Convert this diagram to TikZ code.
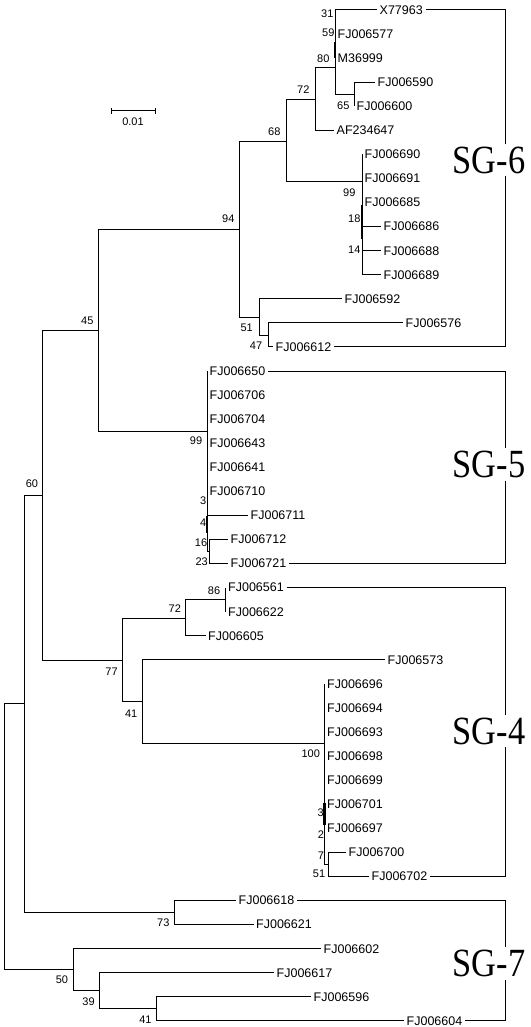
\documentclass[tikz,border=0pt]{standalone}
\usepackage{fontspec}
\usepackage{graphicx}
\usetikzlibrary{arrows.meta}
\newfontfamily\labelfont{Liberation Sans}
\newfontfamily\groupfont{Liberation Serif}

\begin{document}
\begin{tikzpicture}[x=1pt, y=-1pt,
	branch/.style={line width=1pt},
	zerobranch/.style={line width=2.2pt},
	leaf/.style={anchor=west, inner xsep=2.5pt, inner ysep=0pt, font=\labelfont\fontsize{12.5}{12.5}\selectfont},
	boot/.style={inner sep=0pt, font=\labelfont\fontsize{11}{11}\selectfont},
	group/.style={inner xsep=0pt, inner ysep=3pt, text height=26.5pt, text depth=0pt, font=\groupfont\fontsize{40}{40}\selectfont}]
\useasboundingbox (0,0) rectangle (530,1027);

\coordinate (n31) at (335,22);
\coordinate (n59) at (335,42);
\coordinate (n80) at (335,68);
\coordinate (n65) at (354,94.25);
\coordinate (n72a) at (315,100);
\coordinate (n68) at (286,141.5);
\coordinate (n99a) at (362,182);
\coordinate (n18) at (362,205);
\coordinate (n14) at (362,239);
\coordinate (n94) at (239,229.5);
\coordinate (n51a) at (259,317);
\coordinate (n47) at (268,335);
\coordinate (n45) at (98,330);
\coordinate (n99b) at (207,431);
\coordinate (n4a) at (207,515.5);
\coordinate (n4b) at (207,533);
\coordinate (n16) at (209,551.6);
\coordinate (n60) at (42,495);
\coordinate (n77) at (122.4,660.6);
\coordinate (n72b) at (185.3,618);
\coordinate (n86) at (225.5,599.7);
\coordinate (n41a) at (142.7,701.5);
\coordinate (n100) at (324.5,743);
\coordinate (n3a) at (324.5,803);
\coordinate (n3b) at (324.5,825);
\coordinate (n7) at (328,864.5);
\coordinate (nmid) at (24.3,703.5);
\coordinate (nroot) at (4.4,837);
\coordinate (n73) at (174,912.6);
\coordinate (n50) at (73.7,969.7);
\coordinate (n39) at (99.7,990.7);
\coordinate (n41b) at (156.5,1008.9);
\coordinate (bx) at (505.7,0);

\node[leaf] (x77963) at (377,10) {X77963};
\node[leaf] (fj006577) at (335,34.07) {FJ006577};
\node[leaf] (m36999) at (335,58.14) {M36999};
\node[leaf] (fj006590) at (375,82.21) {FJ006590};
\node[leaf] (fj006600) at (354,106.28) {FJ006600};
\node[leaf] (af234647) at (334,130.35) {AF234647};
\node[leaf] (fj006690) at (362,154.42) {FJ006690};
\node[leaf] (fj006691) at (362,178.49) {FJ006691};
\node[leaf] (fj006685) at (362,202.56) {FJ006685};
\node[leaf] (fj006686) at (381,226.63) {FJ006686};
\node[leaf] (fj006688) at (381,250.7) {FJ006688};
\node[leaf] (fj006689) at (381,274.77) {FJ006689};
\node[leaf] (fj006592) at (342,298.84) {FJ006592};
\node[leaf] (fj006576) at (403,322.91) {FJ006576};
\node[leaf] (fj006612) at (273,346.98) {FJ006612};
\node[leaf] (fj006650) at (207,371.05) {FJ006650};
\node[leaf] (fj006706) at (207,395.12) {FJ006706};
\node[leaf] (fj006704) at (207,419.19) {FJ006704};
\node[leaf] (fj006643) at (207,443.26) {FJ006643};
\node[leaf] (fj006641) at (207,467.33) {FJ006641};
\node[leaf] (fj006710) at (207,491.4) {FJ006710};
\node[leaf] (fj006711) at (248,515.47) {FJ006711};
\node[leaf] (fj006712) at (228,539.54) {FJ006712};
\node[leaf] (fj006721) at (228,563.61) {FJ006721};
\node[leaf] (fj006561) at (225.5,587.68) {FJ006561};
\node[leaf] (fj006622) at (225.5,611.75) {FJ006622};
\node[leaf] (fj006605) at (205.5,635.82) {FJ006605};
\node[leaf] (fj006573) at (385,659.89) {FJ006573};
\node[leaf] (fj006696) at (324.5,683.96) {FJ006696};
\node[leaf] (fj006694) at (324.5,708.03) {FJ006694};
\node[leaf] (fj006693) at (324.5,732.1) {FJ006693};
\node[leaf] (fj006698) at (324.5,756.17) {FJ006698};
\node[leaf] (fj006699) at (324.5,780.24) {FJ006699};
\node[leaf] (fj006701) at (324.5,804.31) {FJ006701};
\node[leaf] (fj006697) at (324.5,828.38) {FJ006697};
\node[leaf] (fj006700) at (346,852.45) {FJ006700};
\node[leaf] (fj006702) at (369,876.52) {FJ006702};
\node[leaf] (fj006618) at (236,900.59) {FJ006618};
\node[leaf] (fj006621) at (253.5,924.66) {FJ006621};
\node[leaf] (fj006602) at (321,948.73) {FJ006602};
\node[leaf] (fj006617) at (274,972.8) {FJ006617};
\node[leaf] (fj006596) at (311,996.87) {FJ006596};
\node[leaf] (fj006604) at (404,1020.94) {FJ006604};

\node[boot] (l31) at (327.3,13.3) {31};
\node[boot] (l59) at (328.3,32.3) {59};
\node[boot] (l80) at (323.3,58.3) {80};
\node[boot] (l65) at (343.3,106) {65};
\node[boot] (l72a) at (303.3,90) {72};
\node[boot] (l68) at (274.3,131.7) {68};
\node[boot] (l99a) at (349.3,192.7) {99};
\node[boot] (l18) at (354.3,219) {18};
\node[boot] (l14) at (354.3,250) {14};
\node[boot] (l94) at (228.3,219) {94};
\node[boot] (l51a) at (246.7,327.7) {51};
\node[boot] (l47) at (256,345.7) {47};
\node[boot] (l45) at (87.3,320.7) {45};
\node[boot] (l99b) at (196,440.7) {99};
\node[boot] (l3a) at (203.3,501) {3};
\node[boot] (l4) at (203.3,522.7) {4};
\node[boot] (l16) at (201,542.7) {16};
\node[boot] (l23) at (201.7,561.7) {23};
\node[boot] (l60) at (32,484) {60};
\node[boot] (l86) at (214,590.3) {86};
\node[boot] (l72b) at (174.8,608.2) {72};
\node[boot] (l77) at (111.6,671.4) {77};
\node[boot] (l41a) at (131.2,713.7) {41};
\node[boot] (l100) at (310.7,753.3) {100};
\node[boot] (l3b) at (320.7,812.7) {3};
\node[boot] (l2) at (321,834.3) {2};
\node[boot] (l7) at (321,856) {7};
\node[boot] (l51b) at (319,873.3) {51};
\node[boot] (l73) at (163.3,922.4) {73};
\node[boot] (l50) at (61.9,979.9) {50};
\node[boot] (l39) at (88.6,1001.8) {39};
\node[boot] (l41b) at (145.4,1019.4) {41};

\node[group] (sg6) at (488.9,160) {\scalebox{0.86}[1]{SG-6}};
\node[group] (sg5) at (488.9,464.4) {\scalebox{0.86}[1]{SG-5}};
\node[group] (sg4) at (488.9,731) {\scalebox{0.86}[1]{SG-4}};
\node[group] (sg7) at (488.9,963.4) {\scalebox{0.86}[1]{SG-7}};

\draw[branch] (n31) |- (x77963.west) (n31) |- (fj006577.west);
\draw[branch] (n59) |- (n31);
\draw[zerobranch] (n59) |- (m36999.west);
\draw[branch] (n80) |- (n59) (n80) |- (n65);
\draw[branch] (n65) |- (fj006590.west) (n65) |- (fj006600.west);
\draw[branch] (n72a) |- (n80) (n72a) |- (af234647.west);
\draw[branch] (n68) |- (n72a) (n68) |- (n99a);
\draw[branch] (n99a) |- (fj006690.west) (n99a) |- (fj006691.west) (n99a) |- (fj006685.west)
	(n99a) |- (fj006686.west) (n99a) |- (fj006688.west) (n99a) |- (fj006689.west);
\draw[zerobranch] (n18) -- (n14);
\draw[branch] (n94) |- (n68) (n94) |- (n51a);
\draw[branch] (n51a) |- (fj006592.west) (n51a) |- (n47);
\draw[branch] (n47) |- (fj006576.west) (n47) |- (fj006612.west);
\draw[branch] (n45) |- (n94) (n45) |- (n99b);
\draw[branch] (n99b) |- (fj006650.west) (n99b) |- (fj006706.west) (n99b) |- (fj006704.west)
	(n99b) |- (fj006643.west) (n99b) |- (fj006641.west) (n99b) |- (fj006710.west)
	(n99b) |- (fj006711.west) (n99b) |- (n16);
\draw[zerobranch] (n4a) -- (n4b);
\draw[branch] (n16) |- (fj006712.west) (n16) |- (fj006721.west);
\draw[branch] (n60) |- (n45) (n60) |- (n77);
\draw[branch] (n77) |- (n72b) (n77) |- (n41a);
\draw[branch] (n72b) |- (n86) (n72b) |- (fj006605.west);
\draw[branch] (n86) |- (fj006561.west) (n86) |- (fj006622.west);
\draw[branch] (n41a) |- (fj006573.west) (n41a) |- (n100);
\draw[branch] (n100) |- (fj006696.west) (n100) |- (fj006694.west) (n100) |- (fj006693.west)
	(n100) |- (fj006698.west) (n100) |- (fj006699.west) (n100) |- (fj006701.west)
	(n100) |- (fj006697.west) (n100) |- (n7);
\draw[zerobranch] (n3a) -- (n3b);
\draw[branch] (n7) |- (fj006700.west) (n7) |- (fj006702.west);
\draw[branch] (nmid) |- (n60) (nmid) |- (n73);
\draw[branch] (n73) |- (fj006618.west) (n73) |- (fj006621.west);
\draw[branch] (nroot) |- (nmid) (nroot) |- (n50);
\draw[branch] (n50) |- (fj006602.west) (n50) |- (n39);
\draw[branch] (n39) |- (fj006617.west) (n39) |- (n41b);
\draw[branch] (n41b) |- (fj006596.west) (n41b) |- (fj006604.west);

\draw[branch] (x77963.east) -| (bx |- sg6.north);
\draw[branch] (fj006612.east) -| (bx |- sg6.south);
\draw[branch] (fj006650.east) -| (bx |- sg5.north);
\draw[branch] (fj006721.east) -| (bx |- sg5.south);
\draw[branch] (fj006561.east) -| (bx |- sg4.north);
\draw[branch] (fj006702.east) -| (bx |- sg4.south);
\draw[branch] (fj006618.east) -| (bx |- sg7.north);
\draw[branch] (fj006604.east) -| (bx |- sg7.south);

\coordinate (sb1) at (111,111);
\coordinate (sb2) at (155.7,111);
\draw[branch, {Bar[width=6pt]}-{Bar[width=6pt]}] (sb1) -- (sb2);
\node[boot] (sblabel) at (133,122) {0.01};
\end{tikzpicture}
\end{document}
